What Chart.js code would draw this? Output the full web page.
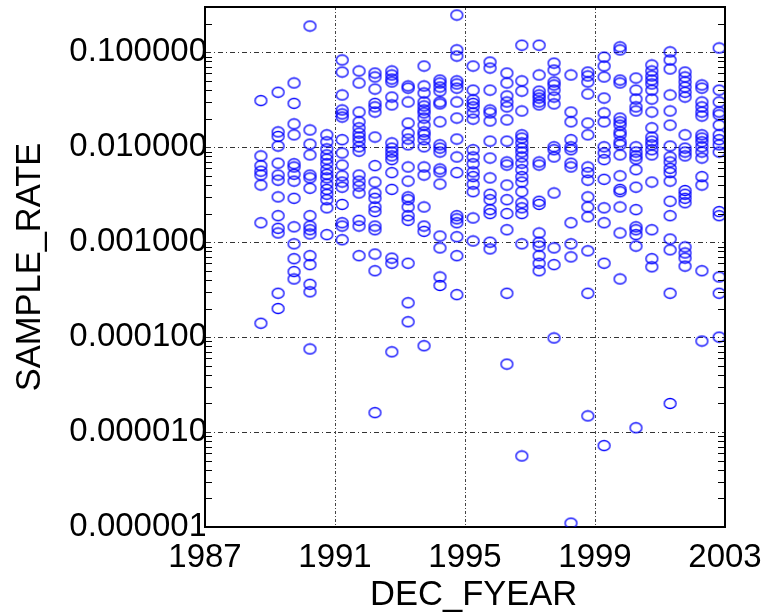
<!DOCTYPE html>
<html>
<head>
<meta charset="utf-8">
<script src="https://cdn.jsdelivr.net/npm/chart.js@4.4.0/dist/chart.umd.min.js"></script>
<style>
  html, body { margin: 0; padding: 0; background: #fff; }
  #chart { display: block; }
</style>
</head>
<body>
<canvas id="chart" width="769" height="616"></canvas>
<script>
// sampling dates (one column of samples about every half year)
const years = [1988.72, 1989.25, 1989.74, 1990.23, 1990.75, 1991.22, 1991.74, 1992.23, 1992.75, 1993.25,
  1993.74, 1994.23, 1994.75, 1995.25, 1995.77, 1996.29, 1996.75, 1997.28, 1997.74, 1998.26,
  1998.78, 1999.28, 1999.77, 2000.26, 2000.75, 2001.31, 2001.77, 2002.29, 2002.82];

// SAMPLE_RATE values for each date above
const rates = [
  [0.031, 0.0081, 0.0064, 0.0056, 0.0051, 0.0040, 0.0016, 0.00014],
  [0.038, 0.0145, 0.013, 0.0103, 0.0068, 0.0051, 0.0045, 0.0030, 0.0019, 0.0014, 0.00125, 0.00029, 0.00020],
  [0.0475, 0.029, 0.0176, 0.0135, 0.0067, 0.0062, 0.0052, 0.0044, 0.0029, 0.00145, 0.00096, 0.00067, 0.00049, 0.00041],
  [0.189, 0.0152, 0.0108, 0.0083, 0.0051, 0.00475, 0.0037, 0.0019, 0.00148, 0.00135, 0.00122, 0.00072, 0.00058, 0.00036, 0.00030, 0.000075],
  [0.0135, 0.0114, 0.0096, 0.0083, 0.0075, 0.0067, 0.0058, 0.0052, 0.00475, 0.0041, 0.0036, 0.0032, 0.0028, 0.0023, 0.0012],
  [0.083, 0.062, 0.0355, 0.0247, 0.0224, 0.0208, 0.012, 0.0087, 0.0065, 0.0050, 0.0043, 0.0038, 0.0025, 0.0016, 0.00148, 0.00106],
  [0.0636, 0.0475, 0.0235, 0.0185, 0.016, 0.0141, 0.0128, 0.0116, 0.0101, 0.0091, 0.0051, 0.0044, 0.0039, 0.0033, 0.0017, 0.00148, 0.00072],
  [0.0605, 0.055, 0.041, 0.029, 0.0266, 0.0235, 0.0128, 0.0064, 0.0043, 0.0033, 0.0029, 0.00235, 0.0021, 0.00148, 0.00135, 0.00075, 0.00050, 0.000016],
  [0.0636, 0.0577, 0.0523, 0.0487, 0.0338, 0.0279, 0.0111, 0.0098, 0.0089, 0.0081, 0.0074, 0.0054, 0.0036, 0.00068, 0.00060, 0.000070],
  [0.0442, 0.042, 0.030, 0.018, 0.0141, 0.0122, 0.0106, 0.0062, 0.0044, 0.0030, 0.0028, 0.00235, 0.0019, 0.0017, 0.00060, 0.00023, 0.000145],
  [0.0717, 0.0442, 0.0373, 0.030, 0.0272, 0.0247, 0.023, 0.0203, 0.0171, 0.0145, 0.0135, 0.012, 0.0101, 0.0062, 0.0051, 0.00235, 0.00148, 0.0013, 0.000081],
  [0.051, 0.0475, 0.0431, 0.039, 0.030, 0.0286, 0.0185, 0.0106, 0.0098, 0.0089, 0.0059, 0.0055, 0.0041, 0.00116, 0.00087, 0.00043, 0.00035],
  [0.247, 0.106, 0.0914, 0.050, 0.0464, 0.042, 0.030, 0.0203, 0.0122, 0.0079, 0.0054, 0.0019, 0.00176, 0.0016, 0.00114, 0.00072, 0.00028],
  [0.0717, 0.040, 0.0315, 0.029, 0.0266, 0.023, 0.0198, 0.0094, 0.0079, 0.0067, 0.0055, 0.0049, 0.0041, 0.0034, 0.0018, 0.00103],
  [0.079, 0.0683, 0.040, 0.0247, 0.023, 0.0189, 0.0116, 0.0077, 0.00475, 0.0032, 0.0028, 0.0022, 0.0020, 0.0010, 0.00085],
  [0.0605, 0.0475, 0.0347, 0.030, 0.0266, 0.0194, 0.0116, 0.0070, 0.0065, 0.0040, 0.0028, 0.0020, 0.00135, 0.00029, 0.000052],
  [0.119, 0.050, 0.039, 0.0241, 0.0135, 0.0125, 0.0111, 0.0098, 0.0089, 0.0079, 0.0068, 0.0058, 0.0049, 0.0043, 0.0034, 0.0026, 0.0023, 0.0020, 0.00096, 0.0000056],
  [0.119, 0.0577, 0.039, 0.0355, 0.033, 0.030, 0.0279, 0.0070, 0.0065, 0.0027, 0.0025, 0.00125, 0.0010, 0.00091, 0.00072, 0.00060, 0.00050],
  [0.077, 0.065, 0.0487, 0.0453, 0.040, 0.0338, 0.0286, 0.0101, 0.0094, 0.0079, 0.0033, 0.00087, 0.00058, 0.000098],
  [0.0577, 0.0235, 0.0185, 0.012, 0.0101, 0.0094, 0.0068, 0.0062, 0.0016, 0.00096, 0.00070, 0.0000011],
  [0.062, 0.0563, 0.0487, 0.0364, 0.018, 0.0135, 0.0062, 0.0054, 0.0045, 0.0030, 0.00235, 0.00185, 0.00081, 0.00029, 0.0000148],
  [0.089, 0.0717, 0.055, 0.033, 0.023, 0.0185, 0.0101, 0.0087, 0.0074, 0.0046, 0.0023, 0.0016, 0.00060, 0.0000072],
  [0.114, 0.106, 0.051, 0.0475, 0.0203, 0.0185, 0.0171, 0.0145, 0.0135, 0.0114, 0.0106, 0.0083, 0.0050, 0.0036, 0.0034, 0.00235, 0.00125, 0.00041],
  [0.0536, 0.040, 0.0322, 0.0266, 0.0241, 0.0101, 0.0089, 0.0081, 0.0075, 0.0058, 0.0038, 0.0022, 0.00145, 0.00135, 0.0012, 0.00091, 0.0000111],
  [0.0735, 0.0636, 0.0563, 0.051, 0.0464, 0.040, 0.0322, 0.0235, 0.016, 0.0128, 0.0116, 0.0106, 0.0094, 0.0083, 0.0043, 0.00135, 0.00067, 0.00055],
  [0.101, 0.083, 0.0667, 0.0355, 0.0241, 0.0171, 0.0103, 0.0079, 0.0070, 0.0060, 0.0054, 0.0044, 0.0027, 0.0019, 0.00108, 0.00083, 0.00029, 0.000020],
  [0.062, 0.055, 0.0487, 0.0431, 0.038, 0.0338, 0.0135, 0.0098, 0.0089, 0.0081, 0.0035, 0.0032, 0.0029, 0.0026, 0.00089, 0.00077, 0.00068, 0.00056],
  [0.0453, 0.042, 0.030, 0.0266, 0.0235, 0.0213, 0.0135, 0.0125, 0.0114, 0.0101, 0.0089, 0.0077, 0.0049, 0.0040, 0.00050, 0.000091],
  [0.111, 0.040, 0.030, 0.0235, 0.0219, 0.0171, 0.0135, 0.012, 0.0106, 0.0089, 0.0021, 0.0019, 0.00043, 0.00029, 0.00010]
];

const xTicks = [1987, 1991, 1995, 1999, 2003];
const yTicks = [0.000001, 0.00001, 0.0001, 0.001, 0.01, 0.1];

const family = "'Liberation Sans', Arial, sans-serif";
const tickFont = { family: family, size: 33, lineHeight: 1 };
const titleFont = { family: family, size: 34.5, lineHeight: 1 };

// open ellipse marker
function makeMarker() {
  const c = document.createElement("canvas");
  c.width = 15; c.height = 13;
  const g = c.getContext("2d");
  g.strokeStyle = "#0000ff";
  g.lineWidth = 1.3;
  g.beginPath();
  g.ellipse(7.5, 6.5, 5.9, 5, 0, 0, Math.PI * 2);
  g.stroke();
  return c;
}

const points = [];
years.forEach((yr, i) => {
  rates[i].forEach(r => points.push({ x: yr, y: r }));
});

// 外框 + 小刻度
const framePlugin = {
  id: "frame",
  afterDraw(chart) {
    const { ctx, chartArea: a, scales } = chart;
    ctx.save();
    ctx.strokeStyle = "#000";
    ctx.lineWidth = 1;
    ctx.beginPath();
    for (let n = -6; n <= -1; n++) {
      for (let m = 2; m <= 9; m++) {
        const v = m * Math.pow(10, n);
        if (v > 0.3) continue;
        const py = Math.round(scales.y.getPixelForValue(v)) + 0.5;
        ctx.moveTo(a.left, py); ctx.lineTo(a.left + 7, py);
        ctx.moveTo(a.right, py); ctx.lineTo(a.right - 7, py);
      }
    }
    ctx.stroke();
    ctx.lineWidth = 2;
    ctx.beginPath();
    ctx.moveTo(a.left, a.top);
    ctx.lineTo(a.right, a.top);
    ctx.lineTo(a.right, a.bottom);
    ctx.stroke();
    ctx.restore();
  }
};

new Chart(document.getElementById("chart"), {
  type: "scatter",
  data: {
    datasets: [{
      data: points,
      pointStyle: makeMarker(),
      pointRadius: 6,
      pointHoverRadius: 6,
    }],
  },
  options: {
    responsive: false,
    animation: false,
    layout: { padding: { top: 7, right: 44, left: 0, bottom: 0 } },
    plugins: { legend: { display: false }, tooltip: { enabled: false } },
    scales: {
      x: {
        type: "linear",
        min: 1987,
        max: 2003,
        afterBuildTicks: s => { s.ticks = xTicks.map(v => ({ value: v })); },
        afterFit: s => { s.height = 89; s.paddingLeft = 0; s.paddingRight = 0; },
        ticks: { callback: v => String(v), font: tickFont, color: "#000", padding: 14, maxRotation: 0, autoSkip: false },
        grid: {
          color: c => (c.tick && (c.tick.value === 1987 || c.tick.value === 2003)) ? "rgba(0,0,0,0)" : "#444",
          drawTicks: false,
          lineWidth: 1,
        },
        border: { display: true, color: "#000", width: 2, dash: [3, 2, 1, 2] },
        title: { display: true, text: "\u2002DEC_FYEAR", font: titleFont, color: "#000", padding: { top: 0, bottom: 3 } },
      },
      y: {
        type: "logarithmic",
        min: 0.000001,
        max: 0.3,
        afterBuildTicks: s => { s.ticks = yTicks.map(v => ({ value: v, major: true })); },
        afterFit: s => { s.width = 205; s.paddingTop = 0; s.paddingBottom = 0; },
        ticks: { callback: v => Number(v).toFixed(6), font: tickFont, color: "#000", padding: -2, autoSkip: false },
        grid: {
          color: c => (c.tick && c.tick.value === 0.000001) ? "rgba(0,0,0,0)" : "#333",
          drawTicks: false,
          lineWidth: 1,
        },
        border: { display: true, color: "#000", width: 2, dash: [5, 3, 1, 3] },
        title: { display: true, text: "SAMPLE_RATE", font: titleFont, color: "#000", padding: { top: 13, bottom: 0 } },
      },
    },
  },
  plugins: [framePlugin],
});
</script>
</body>
</html>
